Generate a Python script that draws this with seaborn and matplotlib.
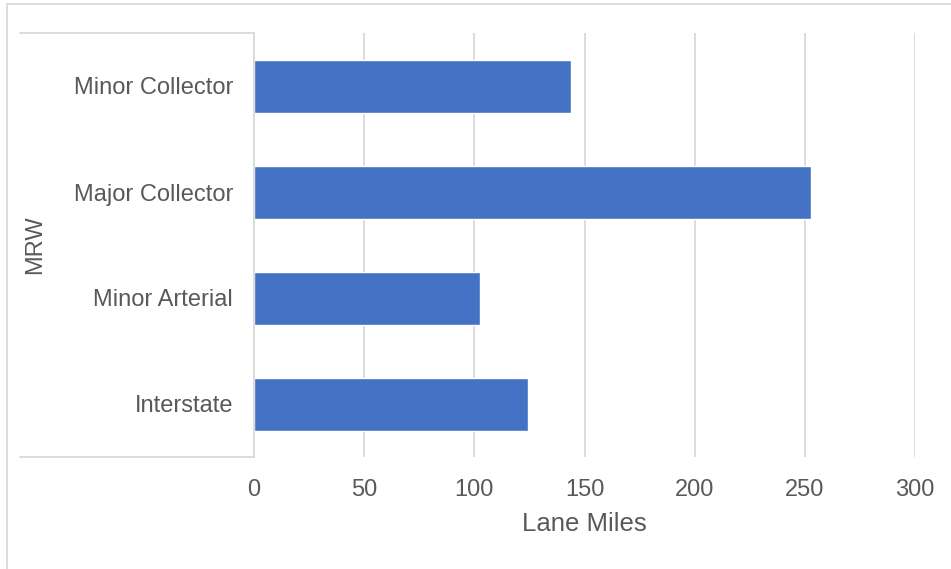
import matplotlib
matplotlib.use("Agg")
import matplotlib.pyplot as plt
import seaborn as sns
import pandas as pd
from matplotlib.patches import Rectangle
from matplotlib.lines import Line2D

categories = ["Minor Collector", "Major Collector", "Minor Arterial", "Interstate"]
lane_miles = [144, 253, 102.5, 124.5]
xticks = [0, 50, 100, 150, 200, 250, 300]
group_label = "MRW"
x_title = "Lane Miles"

sns.set_theme(style="white")
plt.rcParams["font.family"] = ["Liberation Sans", "DejaVu Sans"]

df = pd.DataFrame({"cat": categories, "val": lane_miles})

W, H = 951, 569
fig = plt.figure(figsize=(W / 100, H / 100), dpi=100)
ax = fig.add_axes([254 / W, 1 - 457 / H, (915 - 254) / W, (457 - 33) / H])

sns.barplot(data=df, y="cat", x="val", order=categories, orient="h",
            color="#4472C4", saturation=1, width=0.5, ax=ax)

ax.set_xlim(0, 300)
ax.set_xticks(xticks)
ax.set_xticklabels([str(t) for t in xticks])
ax.xaxis.grid(True, color="#D9D9D9", linewidth=1.3)
ax.set_axisbelow(True)
for s in ["top", "right", "bottom"]:
    ax.spines[s].set_visible(False)
ax.spines["left"].set_color("#D9D9D9")
ax.spines["left"].set_linewidth(1.3)
ax.tick_params(axis="both", length=0, labelsize=17, colors="#595959")
ax.tick_params(axis="y", pad=15)
ax.tick_params(axis="x", pad=16)
ax.set_ylabel("")
ax.set_xlabel(x_title, fontsize=18.5, color="#595959", labelpad=8)

# group bracket lines
x0 = (20 - 254) / (915 - 254)
for yy in (0, 1):
    ax.add_line(Line2D([x0, 0], [yy, yy], transform=ax.transAxes,
                       color="#D9D9D9", linewidth=1.3, clip_on=False))
ax.text((35 - 254) / (915 - 254), 0.5, group_label, transform=ax.transAxes,
        rotation=90, ha="center", va="center", fontsize=17, color="#595959")

# outer chart border
top = 1 - 4 / H
fig.patches.append(Rectangle((7 / W, -0.2), 1.2, top + 0.2, transform=fig.transFigure,
                             fill=False, edgecolor="#D9D9D9", linewidth=1.3))

fig.savefig("out.png", dpi=100)
